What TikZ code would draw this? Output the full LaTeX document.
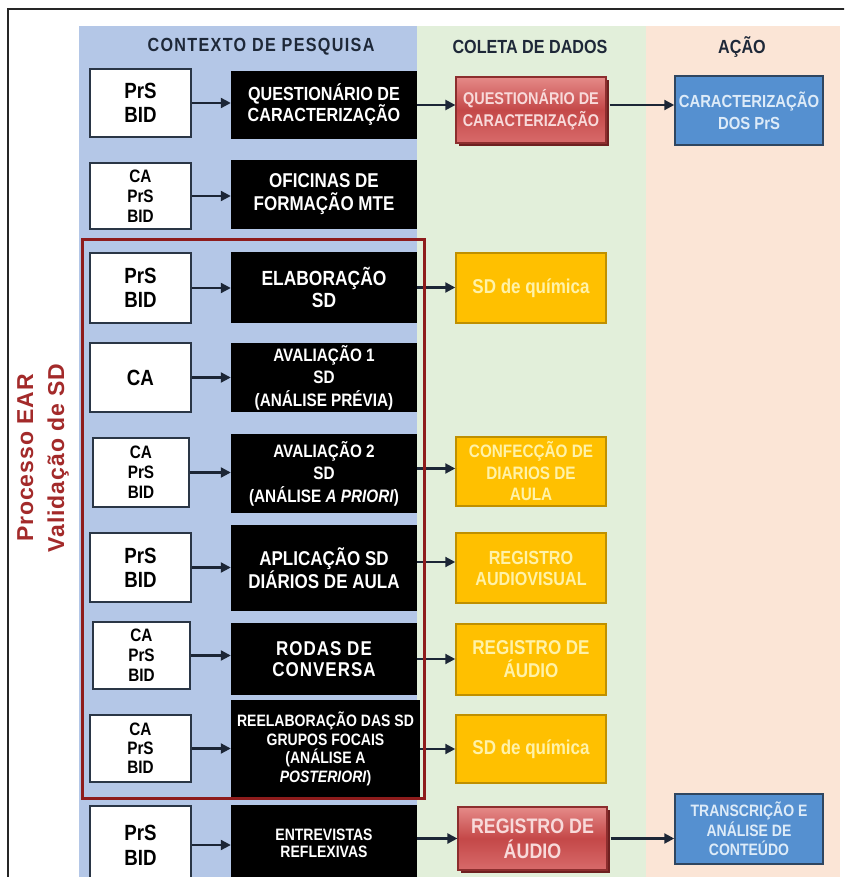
\documentclass[tikz,border=0pt]{standalone}
\usepackage{fontspec}
\setmainfont{Liberation Sans}
\newfontfamily\nar[FakeStretch=0.85]{Liberation Sans}
\newfontfamily\narsp[FakeStretch=0.85,LetterSpace=5]{Liberation Sans}
\newfontfamily\hdr[FakeStretch=0.85,LetterSpace=7]{Liberation Sans}
\newfontfamily\sidefont[LetterSpace=4]{Liberation Sans}
\usetikzlibrary{arrows.meta,shadows}
\definecolor{bgblue}{HTML}{B4C7E7}
\definecolor{bggreen}{HTML}{E2EFDA}
\definecolor{bgpeach}{HTML}{FBE5D6}
\definecolor{frred}{HTML}{8E1C1C}
\definecolor{sidered}{HTML}{A32A2A}
\definecolor{arrc}{HTML}{1C2636}
\definecolor{wline}{HTML}{2A3646}
\definecolor{yfill}{HTML}{FFC000}
\definecolor{yline}{HTML}{BF9000}
\definecolor{ytext}{HTML}{FFF2A8}
\definecolor{bfill}{HTML}{5590D0}
\definecolor{bline}{HTML}{2F4660}
\definecolor{btext}{HTML}{DDEBF8}
\definecolor{rtop}{HTML}{E58A88}
\definecolor{rmid}{HTML}{C44848}
\definecolor{rbot}{HTML}{D86A6A}
\definecolor{rline}{HTML}{8C2E2E}
\definecolor{rshadow}{HTML}{6E2020}
\definecolor{rtext}{HTML}{F8DADA}
\definecolor{hdrc}{HTML}{1E2838}
\newcommand\myfs[2]{\fontsize{#1}{#2}\selectfont}
\newcommand\bx[2]{\nar\bfseries\fontsize{#1}{#2}\selectfont}
\newcommand\bxs[2]{\narsp\bfseries\fontsize{#1}{#2}\selectfont}
\begin{document}
\begin{tikzpicture}[x=1pt,y=-1pt,
 box/.style={inner sep=0pt, align=center},
 wbox/.style={box, draw=wline, line width=1.8pt, fill=white, text=black},
 kbox/.style={box, fill=black, text=white},
 ybox/.style={box, fill=yfill, draw=yline, line width=1.5pt, text=ytext},
 rbox/.style={box, draw=rline, line width=1.2pt, top color=rtop, bottom color=rbot, middle color=rmid, text=rtext,
   drop shadow={shadow xshift=3pt, shadow yshift=-3pt, fill=rshadow, opacity=1}},
 ubox/.style={box, fill=bfill, draw=bline, line width=1.5pt, text=btext},
 arr/.style={draw=arrc, line width=2.2pt, -{Triangle[length=10pt,width=10pt]}},
 hdrs/.style={inner sep=0pt, text=hdrc}
]
\useasboundingbox (0,0) rectangle (844,877);
\clip (0,0) rectangle (844,877);
\fill[white] (0,0) rectangle (844,877);
% column backgrounds
\fill[bgblue] (79,26) rectangle (417,880);
\fill[bggreen] (417,26) rectangle (646,880);
\fill[bgpeach] (646,26) rectangle (840,880);
% outer frame
\draw[line width=1.3pt, black!85] (850,9) -- (8,9) -- (8,885);
% headers
\node[hdrs, font=\hdr\bfseries\myfs{19}{22}] (h1) at (261,47) {CONTEXTO DE PESQUISA};
\node[hdrs, font=\bx{19}{22}] (h2) at (530,47) {COLETA DE DADOS};
\node[hdrs, font=\bx{19}{22}] (h3) at (742,47) {AÇÃO};
% side label
\node[inner sep=0pt, align=center, rotate=90, text=sidered, font=\sidefont\bfseries\myfs{23}{31}] (side) at (43,458) {Processo EAR\\Validação de SD};
% white boxes
\node[wbox, minimum width=101pt, minimum height=68pt, font=\bx{22}{24}] (w1) at (140.5,103) {PrS\\BID};
\node[wbox, minimum width=101pt, minimum height=66pt, font=\bx{18}{20}] (w2) at (140.5,196) {CA\\PrS\\BID};
\node[wbox, minimum width=101pt, minimum height=70pt, font=\bx{22}{24}] (w3) at (140.5,288) {PrS\\BID};
\node[wbox, minimum width=101pt, minimum height=69pt, font=\bx{22}{24}] (w4) at (140.5,377.5) {CA};
\node[wbox, minimum width=96pt, minimum height=69pt, font=\bx{18}{20}] (w5) at (141,472.5) {CA\\PrS\\BID};
\node[wbox, minimum width=101pt, minimum height=69pt, font=\bx{22}{24}] (w6) at (140.5,567.5) {PrS\\BID};
\node[wbox, minimum width=97pt, minimum height=67pt, font=\bx{18}{20}] (w7) at (141.5,655.5) {CA\\PrS\\BID};
\node[wbox, minimum width=101pt, minimum height=67pt, font=\bx{18}{19}] (w8) at (140.5,748.5) {CA\\PrS\\BID};
\node[wbox, minimum width=101pt, minimum height=78pt, font=\bx{22}{25}] (w9) at (140.5,845) {PrS\\BID};
% black boxes
\node[kbox, minimum width=186pt, minimum height=68pt, font=\bx{19}{21}] (b1) at (324,105) {QUESTIONÁRIO DE\\CARACTERIZAÇÃO};
\node[kbox, minimum width=186pt, minimum height=69pt, font=\bx{20}{23}] (b2) at (324,194.5) {OFICINAS DE\\FORMAÇÃO MTE};
\node[kbox, minimum width=186pt, minimum height=71pt, font=\bx{20.5}{22}] (b3) at (324,287.5) {ELABORAÇÃO\\SD};
\node[kbox, minimum width=186pt, minimum height=69pt, font=\bx{18}{22.5}] (b4) at (324,377.5) {AVALIAÇÃO 1\\SD\\(ANÁLISE PRÉVIA)};
\node[kbox, minimum width=186pt, minimum height=79pt, font=\bx{18}{22.5}] (b5) at (324,473.5) {AVALIAÇÃO 2\\SD\\(ANÁLISE \textit{A PRIORI})};
\node[kbox, minimum width=186pt, minimum height=86pt, font=\bx{20}{21}] (b6) at (324,568) {APLICAÇÃO SD\\DIÁRIOS DE AULA};
\node[kbox, minimum width=186pt, minimum height=72pt, font=\bxs{20}{21}] (b7) at (324,659) {RODAS DE\\CONVERSA};
\node[kbox, minimum width=189pt, minimum height=98pt, font=\bx{16.5}{18.5}] (b8) at (325.5,749) {REELABORAÇÃO DAS SD\\GRUPOS FOCAIS\\(ANÁLISE A\\\textit{POSTERIORI})};
\node[kbox, minimum width=186pt, minimum height=77pt, font=\bx{16.5}{17}] (b9) at (324,843.5) {ENTREVISTAS\\REFLEXIVAS};
% data collection boxes
\node[rbox, minimum width=150pt, minimum height=66pt, font=\bx{17}{22}] (r1) at (531,110) {QUESTIONÁRIO DE\\CARACTERIZAÇÃO};
\node[ybox, minimum width=150pt, minimum height=70pt, font=\bx{20}{22}] (y3) at (531,288) {SD de química};
\node[ybox, minimum width=150pt, minimum height=69pt, font=\bx{18}{21.5}] (y5) at (531,471.5) {CONFECÇÃO DE\\DIARIOS DE\\AULA};
\node[ybox, minimum width=150pt, minimum height=70pt, font=\bx{19}{21}] (y6) at (531,568) {REGISTRO\\AUDIOVISUAL};
\node[ybox, minimum width=150pt, minimum height=71pt, font=\bx{20}{23}] (y7) at (531,659.5) {REGISTRO DE\\ÁUDIO};
\node[ybox, minimum width=150pt, minimum height=68pt, font=\bx{20}{22}] (y8) at (531,749) {SD de química};
\node[rbox, minimum width=149pt, minimum height=63pt, font=\bx{21}{25}] (r9) at (532.5,838.5) {REGISTRO DE\\ÁUDIO};
% action boxes
\node[ubox, minimum width=148pt, minimum height=69pt, font=\bx{17.5}{22}] (u1) at (749,110.5) {CARACTERIZAÇÃO\\DOS PrS};
\node[ubox, minimum width=148pt, minimum height=70pt, font=\bx{16.5}{19.5}] (u9) at (749,829) {TRANSCRIÇÃO E\\ANÁLISE DE\\CONTEÚDO};
% arrows white -> black
\foreach \i in {1,...,9}{
  \draw[arr] (w\i.east) -- (w\i.east -| b\i.west);
}
% arrows black -> collection
\draw[arr] (b1.east) -- (b1.east -| r1.west);
\draw[arr] (b3.east) -- (b3.east -| y3.west);
\draw[arr] (b5.east) ++(0,-5) coordinate (c5) -- (c5 -| y5.west);
\draw[arr] (b6.east) ++(0,-6) coordinate (c6) -- (c6 -| y6.west);
\draw[arr] (b7.east) -- (b7.east -| y7.west);
\draw[arr] (b8.east) -- (b8.east -| y8.west);
\draw[arr] (b9.east) ++(0,-5) coordinate (c9) -- (c9 -| r9.west);
% arrows collection -> action
\draw[arr] (r1.east) ++(3,-5) coordinate (d1) -- (d1 -| u1.west);
\draw[arr] (r9.east) ++(3,0) coordinate (d9) -- (d9 -| u9.west);
% red frame
\draw[line width=3pt, frred] (82,239) rectangle (424,798);
\end{tikzpicture}
\end{document}
